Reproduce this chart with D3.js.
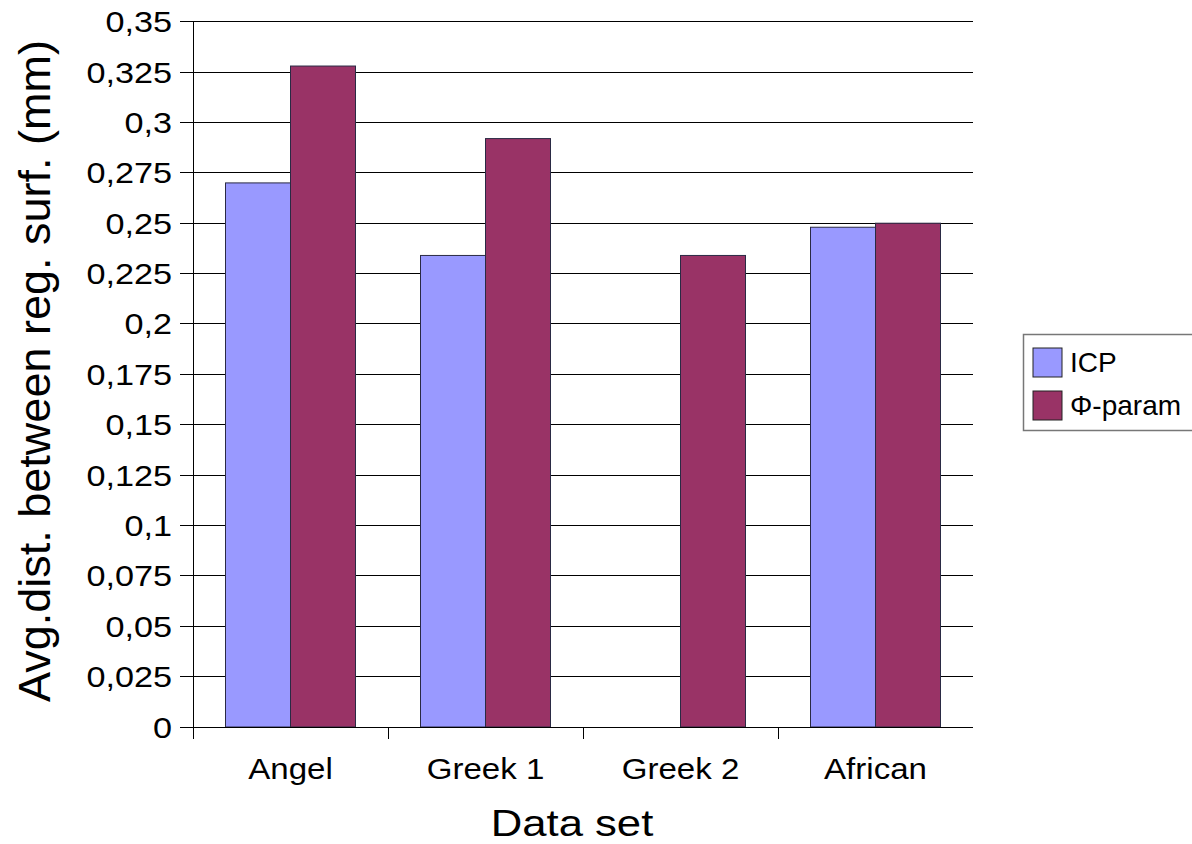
<!DOCTYPE html>
<html><head><meta charset="utf-8">
<script src="https://cdn.jsdelivr.net/npm/d3@7"></script>
<style>body{margin:0;background:#fff}svg{display:block;font-family:"Liberation Sans",Arial,sans-serif}</style>
</head><body><svg id="c" width="1192" height="844"></svg>
<script>
const categories = ["Angel", "Greek 1", "Greek 2", "African"];
const seriesNames = ["ICP", "Φ-param"];
const icpValues = [0.270, 0.234, null, 0.248];
const phiValues = [0.328, 0.292, 0.234, 0.250];
const tickValues = [0, 0.025, 0.05, 0.075, 0.1, 0.125, 0.15, 0.175, 0.2, 0.225, 0.25, 0.275, 0.3, 0.325, 0.35];
const tickLabels = ["0", "0,025", "0,05", "0,075", "0,1", "0,125", "0,15", "0,175", "0,2", "0,225", "0,25", "0,275", "0,3", "0,325", "0,35"];
const colors = ["#9999FF", "#993366"];
const xTitle = "Data set";
const yTitle = "Avg.dist. between reg. surf. (mm)";

const svg = d3.select("#c");
const L = 193, R = 973, T = 21.7, B = 727;
const y = d3.scaleLinear().domain([0, 0.35]).range([B, T]);
const x = d3.scaleBand().domain(categories).range([L, R]).padding(0);
const xi = d3.scaleBand().domain(seriesNames).range([0, x.bandwidth()]).paddingInner(0).paddingOuter(0.5);
const series = [icpValues, phiValues];

// gridlines
svg.append("g").selectAll("line").data(tickValues.filter(v => v > 0)).join("line")
  .attr("x1", L).attr("x2", R).attr("y1", d => y(d)).attr("y2", d => y(d))
  .attr("stroke", "#000").attr("stroke-width", 1).attr("shape-rendering", "crispEdges");

// bars
categories.forEach((c, i) => {
  series.forEach((s, j) => {
    const v = s[i];
    if (v == null) return;
    svg.append("rect")
      .attr("x", x(c) + xi(seriesNames[j])).attr("width", xi.bandwidth())
      .attr("y", y(v)).attr("height", y(0) - y(v))
      .attr("fill", colors[j]).attr("stroke", "#2a2a44").attr("stroke-width", 1);
  });
});

// y axis
svg.append("line").attr("x1", L).attr("x2", L).attr("y1", T).attr("y2", B + 12)
  .attr("stroke", "#000").attr("shape-rendering", "crispEdges");
svg.append("g").selectAll("line").data(tickValues).join("line")
  .attr("x1", L - 13).attr("x2", L).attr("y1", d => y(d)).attr("y2", d => y(d))
  .attr("stroke", "#000").attr("shape-rendering", "crispEdges");
svg.append("g").selectAll("text").data(tickValues).join("text")
  .attr("transform", d => `translate(172,${y(d) + 10.5}) scale(1.18,1)`)
  .attr("text-anchor", "end").attr("font-size", 29).attr("fill", "#000")
  .text((d, i) => tickLabels[i]);

// x axis
svg.append("line").attr("x1", L).attr("x2", R).attr("y1", B).attr("y2", B)
  .attr("stroke", "#000").attr("shape-rendering", "crispEdges");
svg.append("g").selectAll("line").data(categories).join("line")
  .attr("x1", d => x(d)).attr("x2", d => x(d)).attr("y1", B).attr("y2", B + 12)
  .attr("stroke", "#000").attr("shape-rendering", "crispEdges");
svg.append("g").selectAll("text").data(categories).join("text")
  .attr("transform", d => `translate(${x(d) + x.bandwidth() / 2},779) scale(1.14,1)`)
  .attr("text-anchor", "middle").attr("font-size", 29).attr("fill", "#000")
  .text(d => d);

// titles
svg.append("text").attr("transform", "translate(572,836) scale(1.18,1)")
  .attr("text-anchor", "middle").attr("font-size", 37).text(xTitle);
svg.append("text").attr("transform", "translate(50,371) rotate(-90)")
  .attr("text-anchor", "middle").attr("font-size", 45).text(yTitle);

// legend
const lg = svg.append("g");
lg.append("rect").attr("x", 1023.5).attr("y", 334.5).attr("width", 200).attr("height", 96)
  .attr("fill", "#fff").attr("stroke", "#777").attr("stroke-width", 1.5);
seriesNames.forEach((n, j) => {
  lg.append("rect").attr("x", 1033).attr("y", 348 + j * 43).attr("width", 29).attr("height", 29)
    .attr("fill", colors[j]).attr("stroke", "#222").attr("stroke-width", 1);
  lg.append("text").attr("x", 1070).attr("y", 372 + j * 43).attr("font-size", 28).text(n);
});
</script></body></html>
